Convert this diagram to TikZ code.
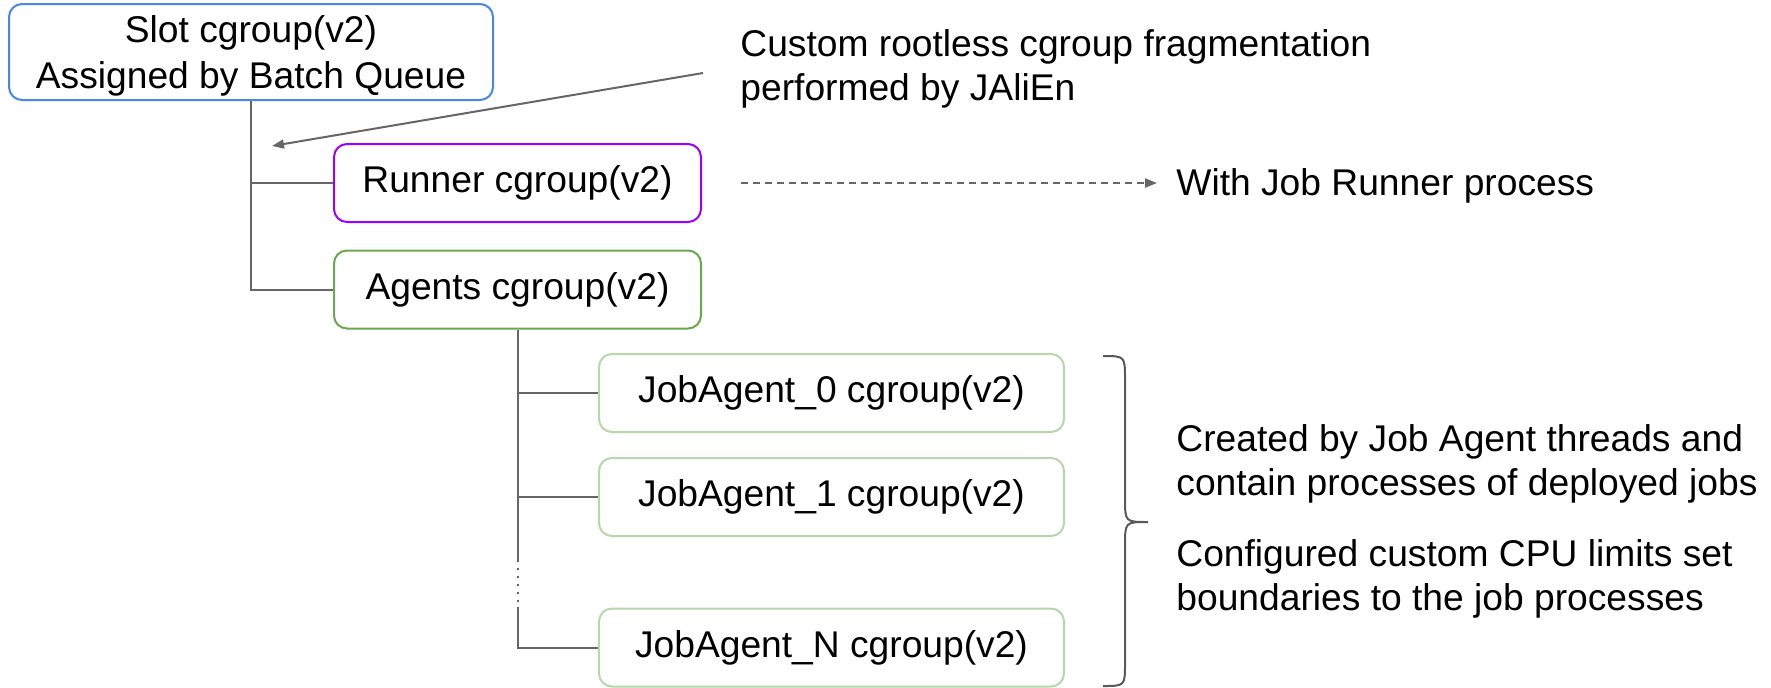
\documentclass[tikz,border=0pt]{standalone}
\usepackage{fontspec}
\setmainfont{Liberation Sans}
\usetikzlibrary{arrows.meta}
\definecolor{slotblue}{HTML}{4A86E8}
\definecolor{runpurple}{HTML}{9900FF}
\definecolor{agentgreen}{HTML}{6AA84F}
\definecolor{jalight}{HTML}{B6D7A8}
\definecolor{linegray}{HTML}{666666}
\definecolor{bracegray}{HTML}{595959}
\begin{document}
\begin{tikzpicture}[x=0.5pt,y=-0.5pt,
  box/.style={draw, rounded corners=6.5pt, line width=1pt, inner sep=0pt, align=center,
    font=\fontsize{18.6}{22}\selectfont, minimum height=39pt},
  lbl/.style={inner sep=0pt, anchor=base west, align=left, font=\fontsize{18.6}{22}\selectfont},
  conn/.style={draw=linegray, line width=1pt},
  arr/.style={draw=linegray, line width=1pt, -{Triangle[length=6pt,width=4.5pt]}},
  darr/.style={draw=linegray, line width=1pt, dash pattern=on 3.5pt off 2.5pt, -{Triangle[length=6pt,width=4.5pt]}}
]
\useasboundingbox (0,0) rectangle (1771,687);

% boxes
\node[box, draw=slotblue, minimum width=242pt, minimum height=48pt, font=\fontsize{18.6}{23}\selectfont] (slot) at (251,52) {\rule{0pt}{17pt}Slot cgroup(v2)\\Assigned by Batch Queue};
\node[box, draw=runpurple, minimum width=183.5pt] (runner) at (517.5,183) {Runner cgroup(v2)};
\node[box, draw=agentgreen, minimum width=183.5pt] (agents) at (517.5,289.5) {Agents cgroup(v2)};
\node[box, draw=jalight, minimum width=232.5pt] (ja0) at (831.5,393) {JobAgent\_0 cgroup(v2)};
\node[box, draw=jalight, minimum width=232.5pt] (ja1) at (831.5,497) {JobAgent\_1 cgroup(v2)};
\node[box, draw=jalight, minimum width=232.5pt] (jaN) at (831.5,647.5) {JobAgent\_N cgroup(v2)};

% labels (base anchor = baseline of last line)
\node[lbl] (frag) at (740,100) {Custom rootless cgroup fragmentation\\performed by JAliEn};
\node[lbl] (with) at (1176,195) {With Job Runner process};
\node[lbl] (created) at (1176,495) {Created by Job Agent threads and\\contain processes of deployed jobs};
\node[lbl] (configured) at (1176,610) {Configured custom CPU limits set\\boundaries to the job processes};

% tree connectors
\draw[conn] (slot.south) -- (slot.south |- agents.west) -- (agents.west);
\draw[conn] (slot.south |- runner.west) -- (runner.west);
\coordinate (dotA) at (517.5,560);
\coordinate (dotB) at (517.5,607);
\draw[conn] (agents.south) -- (dotA);
\draw[conn] (agents.south |- ja0.west) -- (ja0.west);
\draw[conn] (agents.south |- ja1.west) -- (ja1.west);
\draw[conn, dash pattern=on 1pt off 3pt] (dotA) -- (dotB);
\draw[conn] (dotB) -- (dotB |- jaN.west) -- (jaN.west);

% annotation arrows
\coordinate (fragstart) at (703,73);
\coordinate (fragend) at (272,146);
\draw[arr] (fragstart) -- (fragend);
\draw[darr] ([xshift=19.5pt]runner.east) -- ([xshift=-9.5pt]with.west |- runner.east);

% brace
\draw[draw=bracegray, line width=1pt]
  (1103,356) .. controls (1125,356) .. (1125,380) -- (1125,498)
  .. controls (1125,522) .. (1148,522)
  .. controls (1125,522) .. (1125,546) -- (1125,663)
  .. controls (1125,686) .. (1103,686);
\end{tikzpicture}
\end{document}
